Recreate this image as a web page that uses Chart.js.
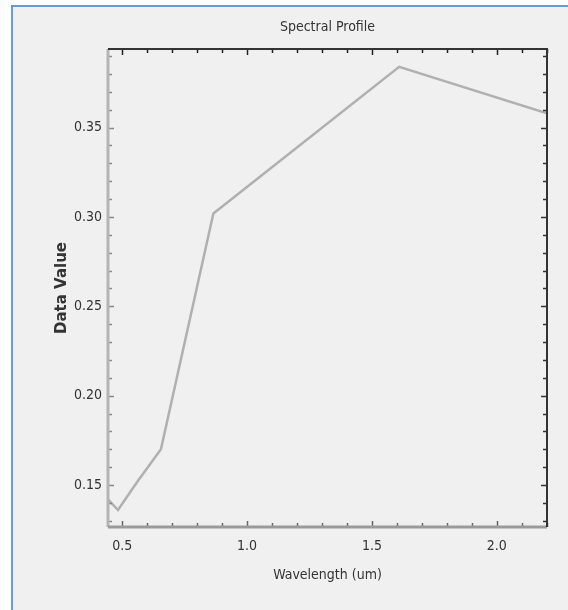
<!DOCTYPE html>
<html>
<head>
<meta charset="utf-8">
<title>Spectral Profile</title>
<script src="https://cdn.jsdelivr.net/npm/chart.js@4.4.1/dist/chart.umd.min.js"></script>
<style>
    html, body { margin: 0; padding: 0; background: #ffffff; }
    #frame {
        position: absolute; left: 11px; top: 5px; width: 557px; height: 605px;
        border-left: 2px solid #6a98d8; border-top: 2px solid #6a98d8;
        background: #f0f0f0; box-sizing: border-box;
    }
    #chart { position: absolute; left: 0; top: 0; }
</style>
</head>
<body>
<div id="frame"></div>
<canvas id="chart" width="568" height="610"></canvas>
<script>
// Landsat-like band centers (um) and the profile values
const wavelengths = [0.443, 0.483, 0.561, 0.655, 0.865, 1.609, 2.201];
const dataValues = [0.142, 0.136, 0.152, 0.170, 0.302, 0.384, 0.358];
const xMajorTicks = [0.5, 1.0, 1.5, 2.0];
const yMajorTicks = [0.15, 0.20, 0.25, 0.30, 0.35];
const chartTitle = 'Spectral Profile';

const narrowFont = "'Liberation Sans Narrow', 'DejaVu Sans Condensed', sans-serif";

function isMajor(value, majors) {
    return majors.some(m => Math.abs(m - value) < 1e-6);
}

// title centred over the plot area rather than the whole canvas
const plotTitle = {
    id: 'plotTitle',
    afterDraw(chart) {
        const ctx = chart.ctx;
        const area = chart.chartArea;
        ctx.save();
        ctx.fillStyle = '#333';
        ctx.font = '14px ' + narrowFont;
        ctx.textAlign = 'center';
        ctx.textBaseline = 'middle';
        ctx.fillText(chartTitle, (area.left + area.right) / 2, 27);
        ctx.restore();
    }
};

// ticks pointing inward on all four sides, plus the axis box
const frameTicks = {
    id: 'frameTicks',
    afterDatasetsDraw(chart) {
        const ctx = chart.ctx;
        const area = chart.chartArea;
        const xs = chart.scales.x;
        const ys = chart.scales.y;
        ctx.save();

        ctx.lineWidth = 1.5;
        xs.ticks.forEach(t => {
            const px = Math.round(xs.getPixelForValue(t.value)) + 0.5;
            const len = isMajor(t.value, xMajorTicks) ? 6 : 4;
            ctx.strokeStyle = '#666';
            ctx.beginPath();
            ctx.moveTo(px, area.bottom);
            ctx.lineTo(px, area.bottom - len);
            ctx.stroke();
            ctx.strokeStyle = '#222';
            ctx.beginPath();
            ctx.moveTo(px, area.top);
            ctx.lineTo(px, area.top + len);
            ctx.stroke();
        });
        ys.ticks.forEach(t => {
            const py = Math.round(ys.getPixelForValue(t.value)) + 0.5;
            const len = isMajor(t.value, yMajorTicks) ? 6 : 4;
            ctx.strokeStyle = '#888';
            ctx.beginPath();
            ctx.moveTo(area.left, py);
            ctx.lineTo(area.left + len, py);
            ctx.stroke();
            ctx.strokeStyle = '#333';
            ctx.beginPath();
            ctx.moveTo(area.right, py);
            ctx.lineTo(area.right - len, py);
            ctx.stroke();
        });

        // left and bottom edges are light grey, top and right are dark
        ctx.lineWidth = 3;
        ctx.strokeStyle = '#b4b4b4';
        ctx.beginPath();
        ctx.moveTo(area.left, area.top);
        ctx.lineTo(area.left, area.bottom);
        ctx.stroke();
        ctx.strokeStyle = '#9a9a9a';
        ctx.beginPath();
        ctx.moveTo(area.left, area.bottom);
        ctx.lineTo(area.right, area.bottom);
        ctx.stroke();
        ctx.lineWidth = 2;
        ctx.strokeStyle = '#333';
        ctx.beginPath();
        ctx.moveTo(area.left, area.top);
        ctx.lineTo(area.right, area.top);
        ctx.lineTo(area.right, area.bottom);
        ctx.stroke();
        ctx.restore();
    }
};

document.addEventListener('DOMContentLoaded', function() {
    renderSpectralChart();
});

function renderSpectralChart() {
    const ctx = document.getElementById('chart').getContext('2d');
    const points = wavelengths.map((w, i) => ({ x: w, y: dataValues[i] }));

    new Chart(ctx, {
        type: 'line',
        data: {
            datasets: [{
                label: chartTitle,
                data: points,
                borderColor: '#b0b0b0',
                borderWidth: 2.5,
                pointRadius: 0,
                tension: 0,
                fill: false
            }]
        },
        options: {
            responsive: false,
            animation: false,
            layout: { padding: { left: 0, right: 21, top: 49, bottom: 0 } },
            plugins: {
                legend: { display: false },
                tooltip: { enabled: false },
                title: { display: false }
            },
            scales: {
                x: {
                    type: 'linear',
                    min: wavelengths[0],
                    max: wavelengths[wavelengths.length - 1],
                    grid: { display: false, drawTicks: false },
                    border: { display: false },
                    afterFit: s => { s.height = 83; },
                    ticks: {
                        stepSize: 0.1,
                        includeBounds: false,
                        autoSkip: false,
                        maxRotation: 0,
                        padding: 11,
                        color: '#333',
                        font: { family: narrowFont, size: 14 },
                        callback: v => isMajor(v, xMajorTicks) ? v.toFixed(1) : ''
                    },
                    title: {
                        display: true,
                        text: 'Wavelength (um)',
                        color: '#333',
                        font: { family: narrowFont, size: 14, lineHeight: 1.2 },
                        padding: { top: 4, bottom: 26 }
                    }
                },
                y: {
                    min: 0.1265,
                    max: 0.394,
                    grid: { display: false, drawTicks: false },
                    border: { display: false },
                    afterFit: s => { s.width = 108; },
                    ticks: {
                        stepSize: 0.01,
                        includeBounds: false,
                        autoSkip: false,
                        padding: 6,
                        color: '#333',
                        font: { family: narrowFont, size: 14 },
                        callback: v => isMajor(v, yMajorTicks) ? v.toFixed(2) : ''
                    },
                    title: {
                        display: true,
                        text: 'Data Value',
                        color: '#333',
                        font: { family: '"DejaVu Sans", Verdana, sans-serif', size: 15, weight: 'bold', lineHeight: 1.2 },
                        padding: { top: 53, bottom: 4 }
                    }
                }
            }
        },
        plugins: [frameTicks, plotTitle]
    });
}
</script>
</body>
</html>
